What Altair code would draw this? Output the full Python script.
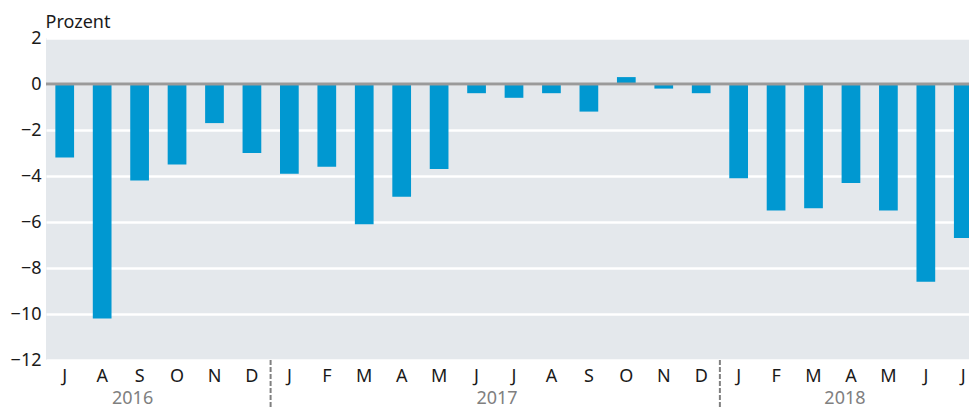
import altair as alt
import pandas as pd

months = ["J", "A", "S", "O", "N", "D",
          "J", "F", "M", "A", "M", "J", "J", "A", "S", "O", "N", "D",
          "J", "F", "M", "A", "M", "J", "J"]
years = ["2016"] * 6 + ["2017"] * 12 + ["2018"] * 7
values = [-3.2, -10.2, -4.2, -3.5, -1.7, -3.0,
          -3.9, -3.6, -6.1, -4.9, -3.7, -0.4, -0.6, -0.4, -1.2, 0.3, -0.2, -0.4,
          -4.1, -5.5, -5.4, -4.3, -5.5, -8.6, -6.7]
y_ticks = [2, 0, -2, -4, -6, -8, -10, -12]
year_labels = ["2016", "2017", "2018"]
year_anchor = [2, 12, 21]      # index of month under which year label sits
year_dx = [-7, -17, -6]
sep_index = [6, 18]            # first month of a new year

keys = [f"k{i:02d}" for i in range(len(months))]
df = pd.DataFrame({"key": keys, "month": months, "year": years, "value": values})
ydf = pd.DataFrame({"key": [keys[i] for i in year_anchor], "label": year_labels, "dx": year_dx})
sdf = pd.DataFrame({"key": [keys[i] for i in sep_index]})

label_js = "{" + ",".join(f"'{k}':'{m}'" for k, m in zip(keys, months)) + "}"

FONT = "Noto Sans"
xscale = alt.Scale(domain=keys, range=[0, 936], paddingInner=0.5, paddingOuter=0.25)

x_enc = alt.X("key:N", scale=xscale, sort=keys,
              axis=alt.Axis(title=None, labelExpr=f"{label_js}[datum.value]",
                            labelAngle=0, ticks=False, domain=False, grid=False,
                            labelFontSize=18, labelColor="#1a1a1a", labelPadding=7,
                            labelFont=FONT))

bars = alt.Chart(df).mark_bar(color="#0098d1").encode(
    x=x_enc,
    y=alt.Y("value:Q", scale=alt.Scale(domain=[-12, 2], nice=False),
            axis=alt.Axis(values=y_ticks, grid=True, gridColor="white", gridWidth=2.5,
                          domain=False, ticks=False, labelFontSize=18, labelColor="#1a1a1a",
                          labelPadding=5, labelFont=FONT,
                          title="Prozent", titleAngle=0, titleX=-1, titleY=-11,
                          titleAlign="left", titleBaseline="alphabetic",
                          titleFontSize=18, titleFontWeight="normal", titleFont=FONT,
                          titleColor="#1a1a1a")),
)

zero = alt.Chart(pd.DataFrame({"v": [0]})).mark_rule(color="#9a9a9a", strokeWidth=3).encode(
    y="v:Q"
)

seps = alt.Chart(sdf).mark_rule(color="#808080", strokeWidth=2, strokeDash=[5, 2],
                                xOffset=-9.4).encode(
    x=alt.X("key:N", scale=xscale, sort=keys, bandPosition=0),
    y=alt.value(322), y2=alt.value(371)
)

ylabs = [alt.Chart(ydf[ydf.label == lab]).mark_text(color="#808080", fontSize=18, font=FONT,
                                                    baseline="bottom", dx=int(d)).encode(
    x=alt.X("key:N", scale=xscale, sort=keys),
    y=alt.value(370),
    text="label:N",
) for lab, d in zip(year_labels, year_dx)]

chart = alt.layer(bars, zero, seps, *ylabs).properties(
    width=923, height=322,
    autosize=alt.AutoSizeParams(type="none"),
    padding={"left": 38, "top": 30, "right": 0, "bottom": 49},
).configure(font=FONT).configure_view(fill="#e4e8ec", stroke=None)

chart.save("out.html", embed_options={"renderer": "svg", "actions": False})
